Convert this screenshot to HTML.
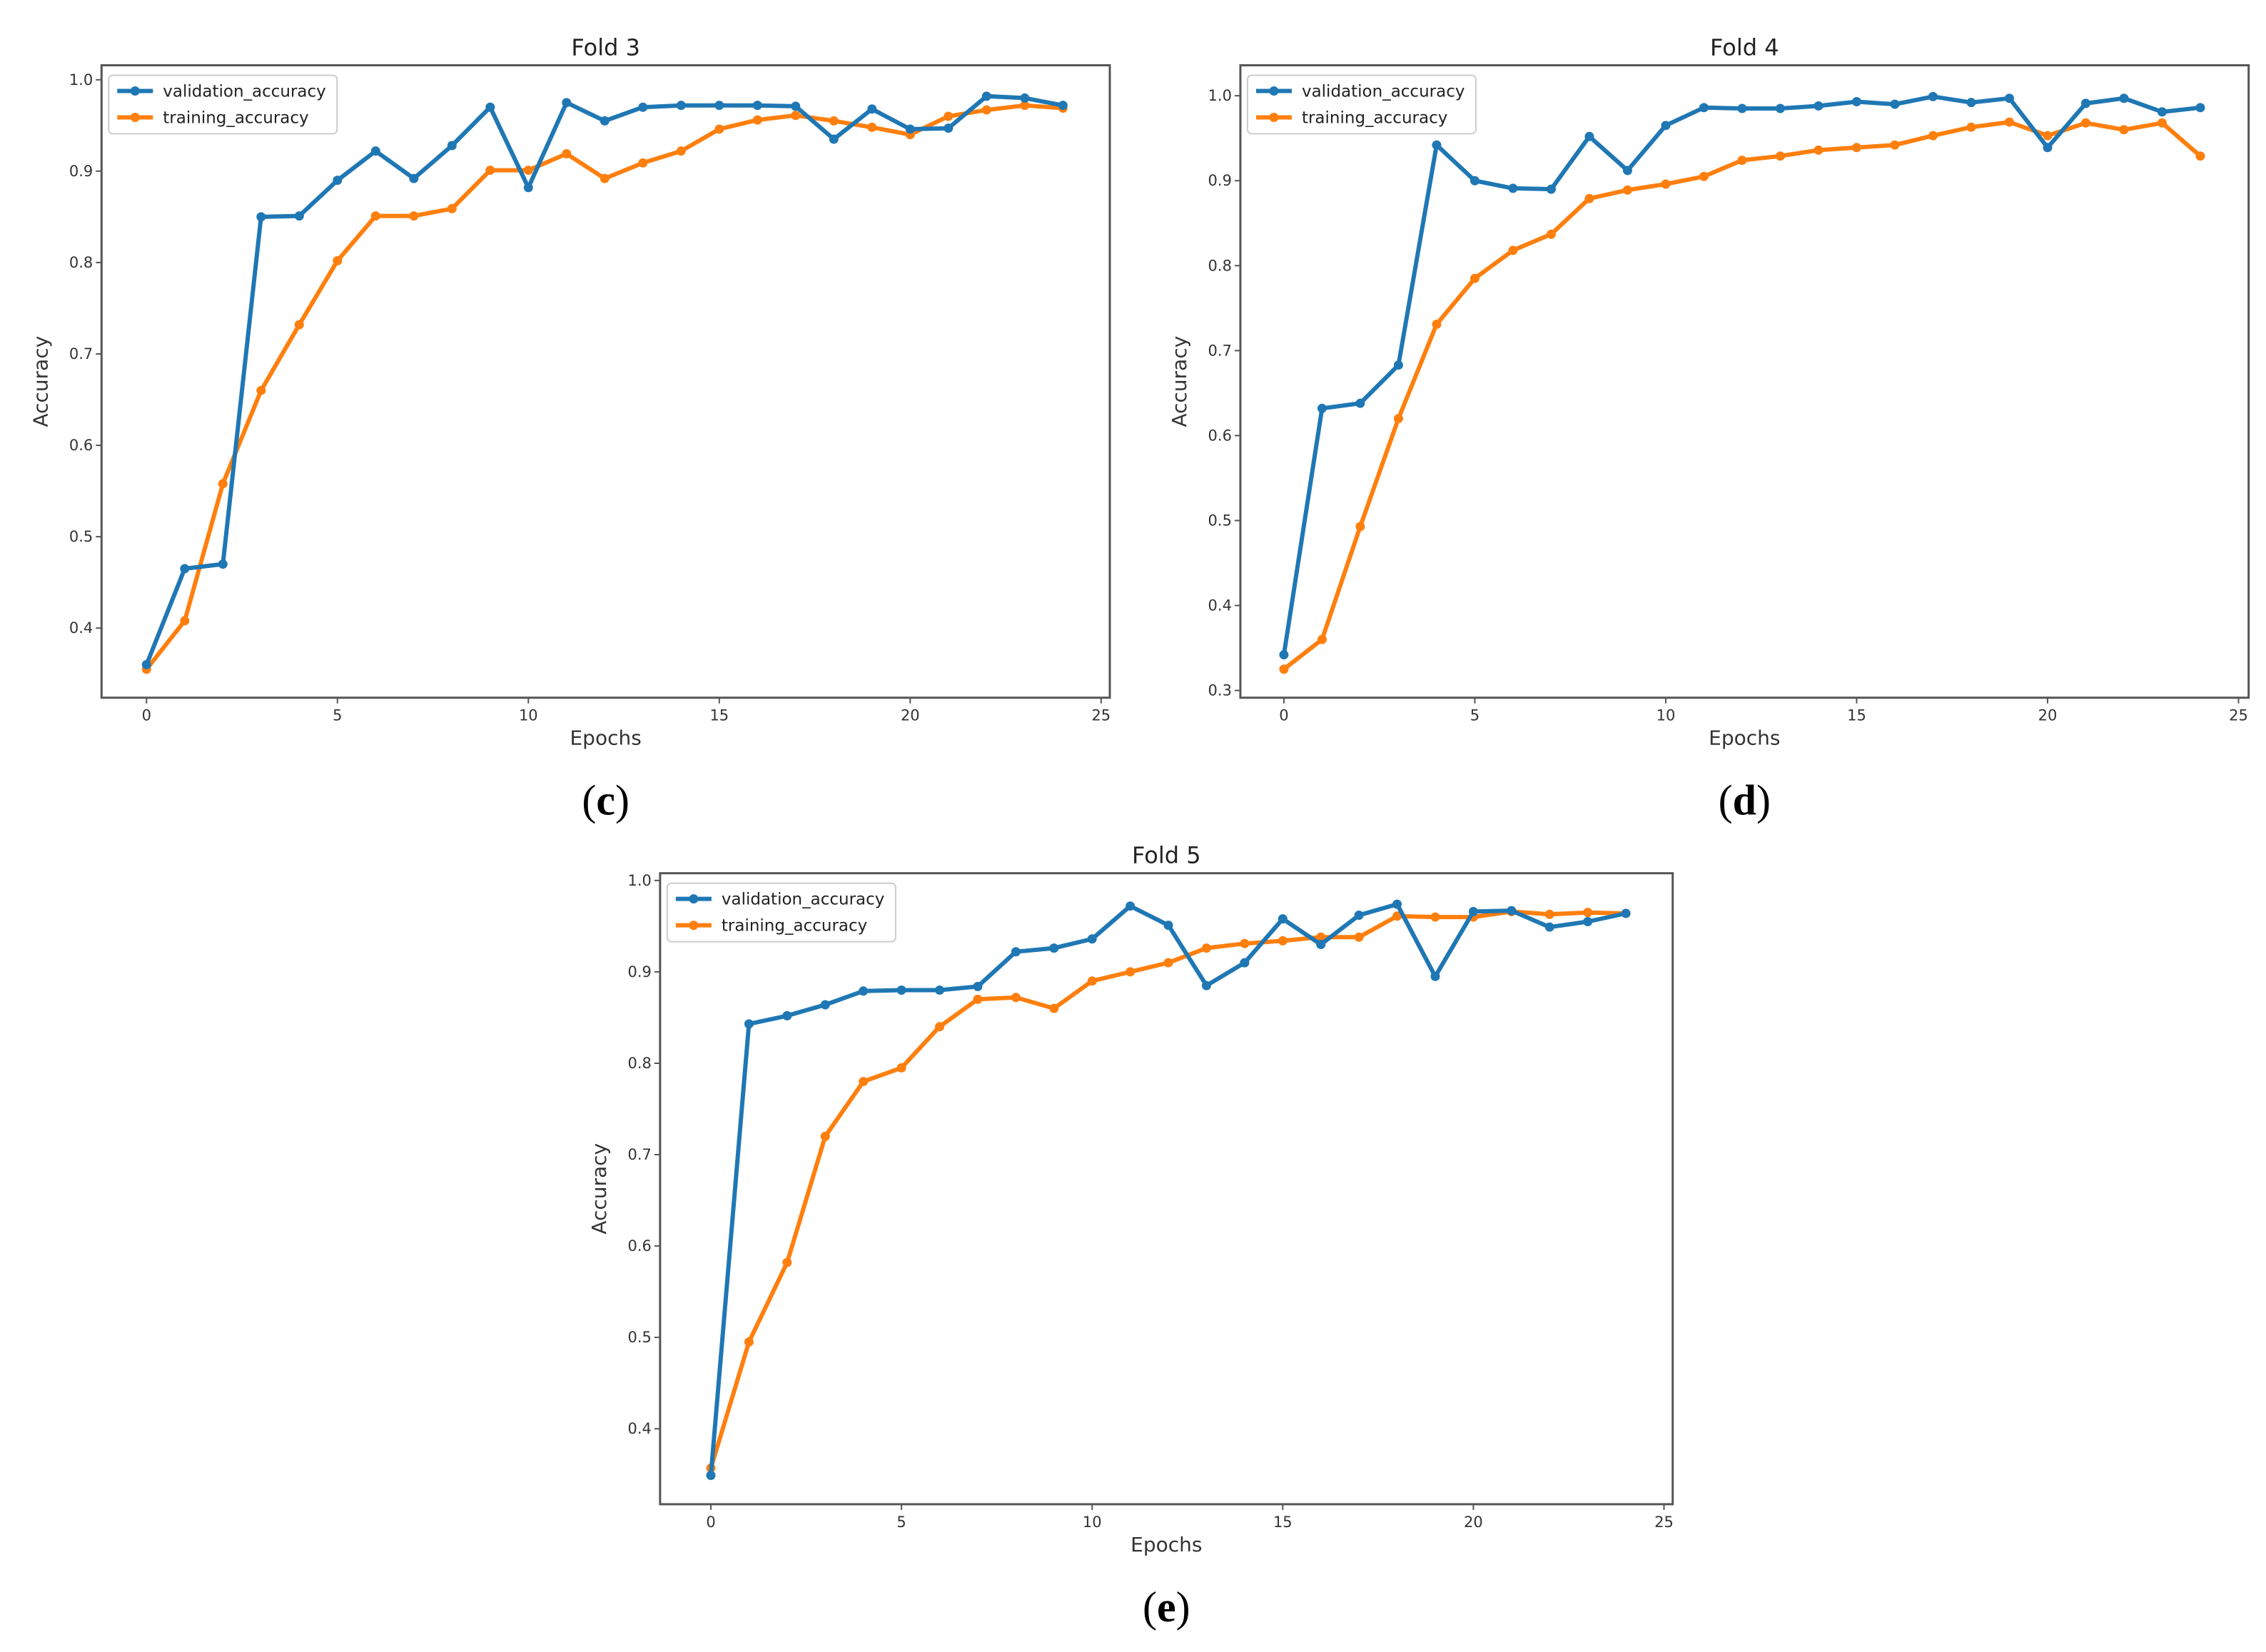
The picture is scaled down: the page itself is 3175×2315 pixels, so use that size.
<!DOCTYPE html>
<html><head><meta charset="utf-8"><style>
html,body{margin:0;padding:0;background:#fff;}
svg{display:block;font-family:"DejaVu Sans","Liberation Sans",sans-serif;}
</style></head><body>
<svg id="fig" width="3175" height="2315" viewBox="0 0 3175 2315" xmlns="http://www.w3.org/2000/svg"></svg>
<script>
const epochs = [0,1,2,3,4,5,6,7,8,9,10,11,12,13,14,15,16,17,18,19,20,21,22,23,24];
const xTicks = [0,5,10,15,20,25];
const yTicksA = [0.4,0.5,0.6,0.7,0.8,0.9,1.0];
const yTicksB = [0.3,0.4,0.5,0.6,0.7,0.8,0.9,1.0];
const fold3Val = [0.36,0.465,0.47,0.85,0.851,0.89,0.922,0.892,0.928,0.97,0.882,0.975,0.955,0.97,0.972,0.972,0.972,0.971,0.935,0.968,0.946,0.947,0.982,0.98,0.972];
const fold3Train = [0.355,0.408,0.558,0.66,0.732,0.802,0.851,0.851,0.859,0.901,0.901,0.919,0.892,0.909,0.922,0.946,0.956,0.961,0.955,0.948,0.94,0.96,0.967,0.972,0.969];
const fold4Val = [0.342,0.632,0.638,0.683,0.942,0.9,0.891,0.89,0.952,0.912,0.965,0.986,0.985,0.985,0.988,0.993,0.99,0.999,0.992,0.997,0.939,0.991,0.997,0.981,0.986];
const fold4Train = [0.325,0.36,0.493,0.62,0.731,0.785,0.818,0.837,0.879,0.889,0.896,0.905,0.924,0.929,0.936,0.939,0.942,0.953,0.963,0.969,0.953,0.968,0.96,0.968,0.929];
const fold5Val = [0.349,0.843,0.852,0.864,0.879,0.88,0.88,0.884,0.922,0.926,0.936,0.972,0.951,0.885,0.91,0.958,0.93,0.962,0.974,0.895,0.966,0.967,0.949,0.955,0.964];
const fold5Train = [0.357,0.495,0.582,0.72,0.78,0.795,0.84,0.87,0.872,0.86,0.89,0.9,0.91,0.926,0.931,0.934,0.938,0.938,0.961,0.96,0.96,0.966,0.963,0.965,0.964];

const S = 2.0327;
const panels = [
 {name:'fold-3', title:'Fold 3', tag:'c', box:[70,45,765,481], x0:101, x25:759, yHi:1.0, yHiPx:55, yLo:0.4, yLoPx:433, ticks:yTicksA, val:fold3Val, train:fold3Train},
 {name:'fold-4', title:'Fold 4', tag:'d', box:[855,45,1550,481], x0:885, x25:1543, yHi:1.0, yHiPx:66, yLo:0.3, yLoPx:476, ticks:yTicksB, val:fold4Val, train:fold4Train},
 {name:'fold-5', title:'Fold 5', tag:'e', box:[455,602,1153,1037], x0:490, x25:1147, yHi:1.0, yHiPx:607, yLo:0.4, yLoPx:985, ticks:yTicksA, val:fold5Val, train:fold5Train}
];
const NS = 'http://www.w3.org/2000/svg';
const fig = document.getElementById('fig');
function mk(tag, attrs, parent, text){
  const e = document.createElementNS(NS, tag);
  for (const k in attrs) e.setAttribute(k, attrs[k]);
  if (text !== undefined) e.textContent = text;
  parent.appendChild(e); return e;
}
const BLUE = '#1f77b4', ORANGE = '#ff7f0e';
panels.forEach(p => {
  const g = mk('g', {}, fig);
  
  
  const L = p.box[0]*S, T = p.box[1]*S, R = p.box[2]*S, B = p.box[3]*S;
  const xs = v => (p.x0 + (p.x25 - p.x0) * v / 25) * S;
  const ys = v => (p.yLoPx + (p.yHiPx - p.yLoPx) * (v - p.yLo) / (p.yHi - p.yLo)) * S;
  const cx = (L + R) / 2;
  const t = mk('text', {x:cx, y:T-14, 'text-anchor':'middle', 'font-size':32, fill:'#222'}, g, p.title);
  
  
  const fr = mk('rect', {x:L, y:T, width:R-L, height:B-T, fill:'#fff', stroke:'#555', 'stroke-width':3}, g);
  
  
  xTicks.forEach(v => {
    const x = xs(v);
    mk('line', {x1:x, y1:B, x2:x, y2:B+8, stroke:'#555', 'stroke-width':2}, g);
    const tl = mk('text', {x:x, y:B+32, 'text-anchor':'middle', 'font-size':21, fill:'#333'}, g, String(v));
    
    
  });
  p.ticks.forEach(v => {
    const y = ys(v);
    mk('line', {x1:L-8, y1:y, x2:L, y2:y, stroke:'#555', 'stroke-width':2}, g);
    const tl = mk('text', {x:L-12, y:y+7, 'text-anchor':'end', 'font-size':21, fill:'#333'}, g, v.toFixed(1));
    
    
  });
  const xl = mk('text', {x:cx, y:B+66, 'text-anchor':'middle', 'font-size':28, fill:'#333'}, g, 'Epochs');
  
  
  const ax = L - 76, ay = (T + B) / 2;
  const yl = mk('text', {x:ax, y:ay, 'text-anchor':'middle', 'font-size':28, fill:'#333', transform:`rotate(-90 ${ax} ${ay})`}, g, 'Accuracy');
  
  
  [[p.train, ORANGE, 'training'], [p.val, BLUE, 'validation']].forEach(([arr, col, nm]) => {
    const pts = arr.map((v, i) => xs(epochs[i]).toFixed(1) + ',' + ys(v).toFixed(1)).join(' ');
    const pl = mk('polyline', {points:pts, fill:'none', stroke:col, 'stroke-width':6, 'stroke-linejoin':'round'}, g);
    
    
    arr.forEach((v, i) => {
      const c = mk('circle', {cx:xs(epochs[i]), cy:ys(v), r:6.5, fill:col}, g);
      
      
    });
  });
  const lg = mk('g', {}, g);
  
  
  const lx = L + 10, ly = T + 14;
  mk('rect', {x:lx, y:ly, width:320, height:82, rx:6, fill:'#fff', stroke:'#ccc', 'stroke-width':2}, lg);
  [['validation_accuracy', BLUE, 0], ['training_accuracy', ORANGE, 1]].forEach(([lab, col, k]) => {
    const yy = ly + 22 + k * 37;
    const le = mk('g', {}, lg);
    
    
    mk('line', {x1:lx+12, y1:yy, x2:lx+62, y2:yy, stroke:col, 'stroke-width':6}, le);
    mk('circle', {cx:lx+37, cy:yy, r:6.5, fill:col}, le);
    mk('text', {x:lx+76, y:yy+8, 'font-size':23, fill:'#222'}, le, lab);
  });
  const tg = mk('text', {x:cx, y:B+164, 'text-anchor':'middle', 'font-size':60, fill:'#000', 'font-family':'Liberation Serif, serif'}, g);
  
  
  mk('tspan', {}, tg, '(');
  mk('tspan', {'font-weight':'bold'}, tg, p.tag);
  mk('tspan', {}, tg, ')');
});
</script>
</body></html>
